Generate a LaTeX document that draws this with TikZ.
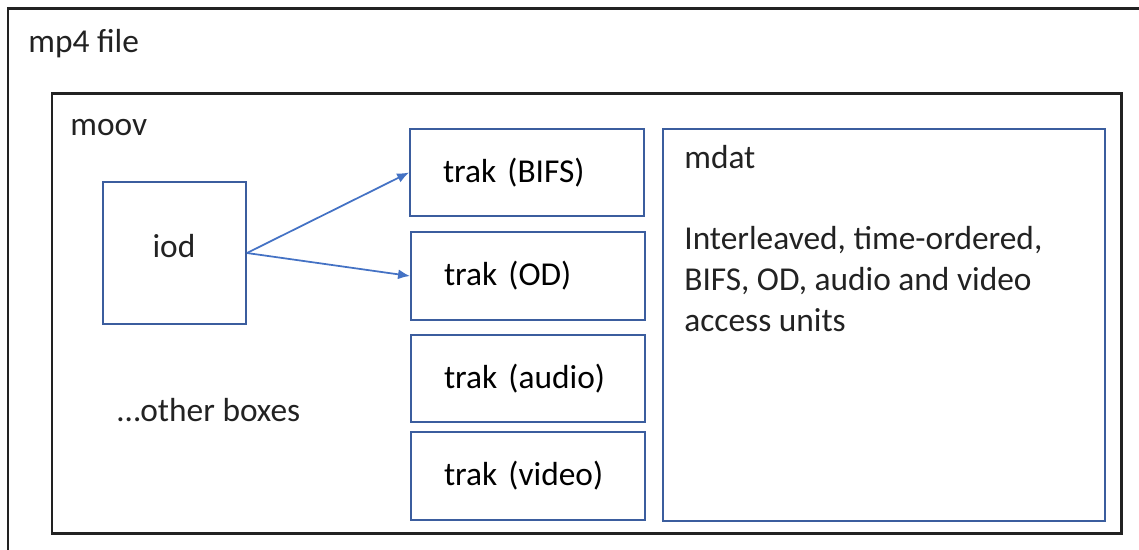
\documentclass[tikz,border=0pt]{standalone}
\usepackage{fontspec}
\usetikzlibrary{arrows.meta}
\setmainfont{Carlito}
\definecolor{framegray}{RGB}{34,34,34}
\definecolor{boxblue}{RGB}{59,93,158}
\definecolor{arrowblue}{RGB}{68,114,196}
\tikzset{
	frame/.style={draw=framegray, line width=1.7pt},
	bluebox/.style={draw=boxblue, line width=1.1pt, inner sep=0pt},
	trakbox/.style={bluebox, minimum width=4.68cm, minimum height=1.75cm, text width=3.36cm, inner xsep=0.66cm, align=left},
	label/.style={inner sep=0pt, text=framegray},
	link/.style={-{Latex[length=0.24cm, width=0.2cm]}, arrowblue, line width=1pt}
}
\begin{document}
\begin{tikzpicture}[x=0.02cm, y=-0.02cm, font=\fontsize{19}{23.3}\selectfont]
		\useasboundingbox (0,0) rectangle (1139,549);
		\clip (0,0) rectangle (1139,549);
		\draw [frame] (8,8) rectangle (1160,570);
		\node[label, anchor=west] (mp4) at (28,44) {mp4 file};
		\draw [frame] (52,93) rectangle (1121,533);
		\node[label, anchor=west] (moov) at (70,128) {moov};
		\node[bluebox, minimum width=2.86cm, minimum height=2.84cm] (iod) at (174.5,253) {};
		\node[label] (iodtext) at (174,246) {iod};
		\node[label, anchor=west] (other) at (117,410) {…other boxes};
		\node[trakbox] (bifs) at (527,172.5) {trak (BIFS)};
		\node[trakbox] (od) at (528,276) {trak (OD)};
		\node[trakbox] (audio) at (528,378.5) {trak (audio)};
		\node[trakbox] (video) at (528,476) {trak (video)};
		\node[bluebox, minimum width=8.84cm, minimum height=7.84cm] (mdat) at (884,325) {};
		\node[label, anchor=west] (mdattitle) at (684,157) {mdat};
		\node[label, anchor=north west, align=left] (mdattext) at (684,226) {Interleaved, time-ordered,\\BIFS, OD, audio and video\\access units};
		\draw [link] (iod.east) -- (bifs.west);
		\draw [link] (iod.east) -- (od.west);
	\end{tikzpicture}
\end{document}
